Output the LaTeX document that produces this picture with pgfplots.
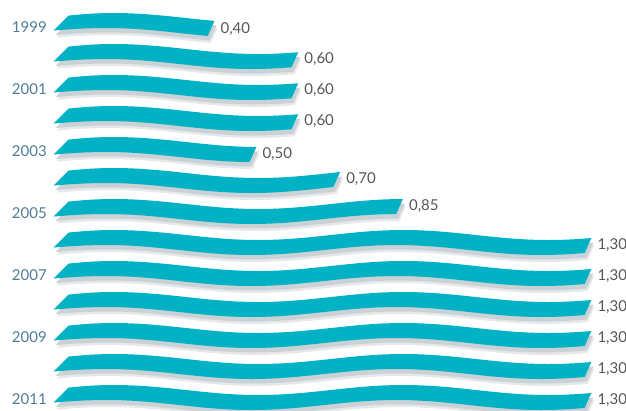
\documentclass[border=0pt]{standalone}
\usepackage{pgfplots}
\pgfplotsset{compat=1.18}
\usepgfmodule{nonlineartransformations}
\usepackage{fontspec}
\setmainfont{Lato}
\definecolor{teal1}{HTML}{00B2C3}
\definecolor{shadowgray}{HTML}{CCD1D5}
\definecolor{shadowlight}{HTML}{E6E9EB}
\definecolor{yearcol}{HTML}{4F7D96}
\definecolor{valcol}{HTML}{555555}
\makeatletter
\def\rbShadowX{0}
\def\rbShadowY{0}
% coordinates here are local to the axis (origin at its south west corner);
% the start of each ribbon is tucked in at x = 17.4pt
\def\ribbontransform{%
  \edef\rb@x{\pgf@sys@tonumber\pgf@x}%
  \edef\rb@y{\pgf@sys@tonumber\pgf@y}%
  \pgfmathparse{max(17.4,\rb@x)}\let\rb@x\pgfmathresult
  \pgfmathparse{387.5-31*round((387.5-\rb@y)/31)}\let\rb@yc\pgfmathresult
  \pgfmathparse{max(0.45,min(1,1-0.55*(\rb@x-17.4)/50))}\let\rb@s\pgfmathresult
  \pgfmathparse{1.24138*(min(2000,\rb@x)-356.4)}\let\rb@ang\pgfmathresult
  \pgfmathparse{\rb@y + 5*cos(\rb@ang) + \rbShadowY}\let\rb@ny\pgfmathresult
  \pgfmathparse{\rb@x + \rb@s*(\rb@y-\rb@yc) + \rbShadowX}\let\rb@nx\pgfmathresult
  \pgf@x=\rb@nx pt\relax
  \pgf@y=\rb@ny pt\relax
}
\makeatother
\tikzset{
  ribbon/.code={\pgfsettransformnonlinearflatness{2pt}\pgftransformnonlinear{\ribbontransform}},
  ribbonshadow/.code 2 args={\def\rbShadowX{#1}\def\rbShadowY{#2}\pgfsettransformnonlinearflatness{2pt}\pgftransformnonlinear{\ribbontransform}},
}
\begin{document}
\begin{tikzpicture}
\useasboundingbox (0,0) rectangle (626pt,410pt);
\begin{axis}[
  at={(43.6pt,-3pt)}, anchor=south west,
  scale only axis, width=544.4pt, height=403pt,
  xmin=0, xmax=1.3, ymin=-0.5, ymax=12.5, y dir=reverse,
  axis x line=none,
  axis y line*=left, y axis line style={draw=none},
  ytick={0,...,12},
  yticklabels={1999,{},2001,{},2003,{},2005,{},2007,{},2009,{},2011},
  major tick length=0pt, ytick style={draw=none},
  yticklabel style={font=\fontsize{15}{15}\selectfont, text=yearcol, xshift=6.7pt, yshift=-2pt},
  /pgf/number format/.cd, assume math mode=true, use comma, fixed, fixed zerofill, precision=2,
  /pgfplots/.cd,
  clip=false,
]
\addplot[xbar, bar width=15pt, bar shift=0pt, fill=shadowlight, draw=none, ribbonshadow={3}{-7}] coordinates {
(0.40,0) (0.60,1) (0.60,2) (0.60,3) (0.50,4) (0.70,5) (0.85,6)
(1.30,7) (1.30,8) (1.30,9) (1.30,10) (1.30,11) (1.30,12)};
\addplot[xbar, bar width=15pt, bar shift=0pt, fill=shadowgray, draw=none, ribbonshadow={2}{-4.5}] coordinates {
(0.40,0) (0.60,1) (0.60,2) (0.60,3) (0.50,4) (0.70,5) (0.85,6)
(1.30,7) (1.30,8) (1.30,9) (1.30,10) (1.30,11) (1.30,12)};
\addplot[xbar, bar width=15pt, bar shift=0pt, fill=teal1, draw=none, ribbon,
  point meta=x, nodes near coords,
  every node near coord/.append style={font=\fontsize{15}{15}\selectfont, text=valcol, anchor=west, xshift=6pt, yshift=0pt}] coordinates {
(0.40,0) (0.60,1) (0.60,2) (0.60,3) (0.50,4) (0.70,5) (0.85,6)
(1.30,7) (1.30,8) (1.30,9) (1.30,10) (1.30,11) (1.30,12)};
\end{axis}
\end{tikzpicture}
\end{document}
